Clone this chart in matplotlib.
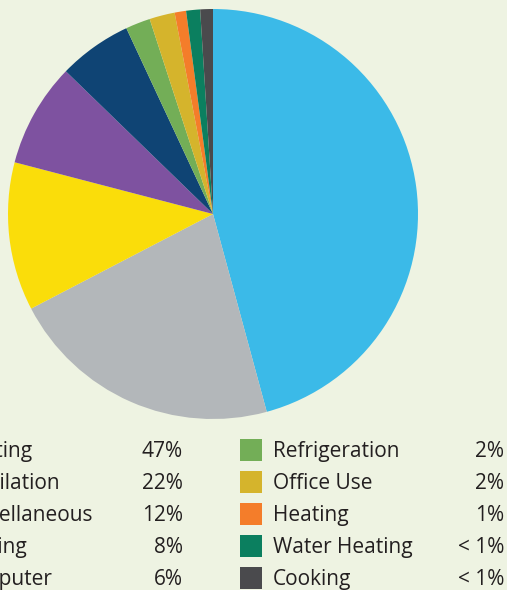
import matplotlib
matplotlib.use("Agg")
import matplotlib.pyplot as plt
from matplotlib.patches import Rectangle

categories = ["Lighting", "Ventilation", "Miscellaneous", "Cooling", "Computer",
              "Refrigeration", "Office Use", "Heating", "Water Heating", "Cooking"]
values = [45.8, 21.6, 11.7, 8.2, 5.8, 1.95, 2.0, 0.9, 1.1, 1.0]
pct_labels = ["47%", "22%", "12%", "8%", "6%", "2%", "2%", "1%", "< 1%", "< 1%"]
colors = ["#3BBAE8", "#B3B7BA", "#FADD0A", "#7E52A0", "#0F4474",
          "#73AE57", "#D5B42C", "#F47D2A", "#0B7F5F", "#4A4A4D"]

BG = "#EEF3E2"
TXT = "#231F20"
W, H = 507, 590
fig = plt.figure(figsize=(W / 100, H / 100), dpi=100, facecolor=BG)

# pie axes: center (213,214), radius 205 px
cx, cy, r = 213, 214, 205
pax = fig.add_axes([(cx - r) / W, (H - (cy + r)) / H, 2 * r / W, 2 * r / H])
pax.set_facecolor("none")
pax.pie(values, colors=colors, startangle=90, counterclock=False, radius=1,
        wedgeprops=dict(linewidth=0))
pax.set_xlim(-1, 1)
pax.set_ylim(-1, 1)
pax.set_aspect("equal")
pax.axis("off")

# legend axes in pixel coordinates
lax = fig.add_axes([0, 0, 1, 1], zorder=-1)
lax.set_xlim(0, W)
lax.set_ylim(H, 0)
lax.axis("off")
lax.set_facecolor("none")

fs = 15
row_centers = [450, 482, 514, 546, 578]
sq_x = [-81, 240]
lab_x = [-45, 273]
pct_x = [183, 504]
for i, (lab, pct, col) in enumerate(zip(categories, pct_labels, colors)):
    c = i // 5
    rr = i % 5
    yc = row_centers[rr]
    lax.add_patch(Rectangle((sq_x[c], yc - 11), 22, 22, facecolor=col, edgecolor="none"))
    lax.text(lab_x[c], yc + 7, lab, fontsize=fs, color=TXT, ha="left", va="baseline",
             family="Open Sans")
    lax.text(pct_x[c], yc + 7, pct, fontsize=fs, color=TXT, ha="right", va="baseline",
             family="Open Sans")

fig.savefig("out.png", dpi=100, facecolor=BG)
